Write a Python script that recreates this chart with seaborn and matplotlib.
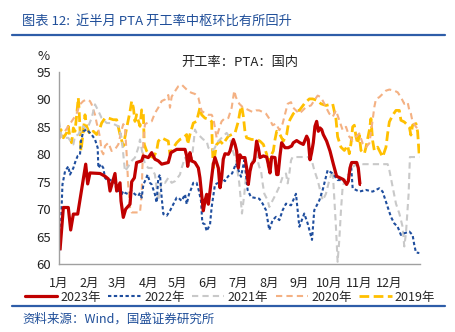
import matplotlib
matplotlib.use("Agg")
import matplotlib.pyplot as plt
import seaborn as sns
import pandas as pd
from matplotlib.lines import Line2D

sns.set_theme(style="white")
plt.rcParams['font.family'] = ['Noto Sans CJK SC', 'DejaVu Sans']

months = ["1月", "2月", "3月", "4月", "5月", "6月", "7月", "8月", "9月", "10月", "11月", "12月"]
month_start = [0, 31, 59, 90, 120, 151, 181, 212, 243, 273, 304, 334]

x2023 = [1, 4.4, 9.4, 11.8, 14.5, 18.9, 27, 29, 31.3, 41.5, 46.5, 49.9, 51.6, 56.6, 58.3, 61.7, 62.7, 65, 67.4, 71.8,
         73.5, 76.2, 78.5, 83.6, 85.3, 90.3, 93.7, 97, 100.4, 103.8, 110.5, 113.2, 119, 127.4, 129.1, 130.1, 132.4, 134.1,
         137.5, 140.9, 142.5, 144.2, 145.9, 147.6, 149.3, 151, 152.7, 154.3, 156, 157.7, 161.1, 162.8, 164.4, 166.1, 167.8,
         171.2, 172.9, 174.6, 176.3, 178, 179.6, 181.3, 183, 184.7, 188, 189.7, 191.4, 193.1, 194.8, 197.5, 199.8, 201.5,
         203.2, 206.6, 210, 211.6, 213.3, 215, 218.4, 220.1, 221.5, 223.4, 225.1, 228.5, 231.8, 235.2, 236.9, 240.3, 243.6,
         247, 250.4, 252, 253.8, 255.4, 257.1, 258.8, 260.5, 262.2, 263.9, 265.6, 267.2, 270.6, 274, 277.4, 280.7, 284.1,
         287.5, 290.8, 292.5, 294.2, 295.9, 301, 302.6, 304.3, 305.3]
y2023 = [62.5, 70.3, 70.3, 66.2, 69.1, 69.1, 78.2, 74.6, 76.6, 76.5, 76.0, 75.5, 73.3, 76.5, 73.3, 74.8, 71.5, 68.5, 70.0, 70.9,
         75.0, 75.7, 78.5, 78.8, 79.7, 79.4, 80.3, 79.1, 78.8, 78.2, 78.5, 80.3, 80.9, 80.9, 79.7, 77.8, 80.3, 78.8,
         78.5, 77.5, 75.7, 72.7, 69.7, 71.5, 72.7, 70.9, 73.3, 75.7, 78.2, 79.4, 77.5, 73.9, 75.7, 79.1, 80.1,
         80.0, 80.6, 81.8, 82.7, 81.8, 80.6, 77.5, 79.9, 79.4, 79.4, 77.5, 74.5, 76.9, 78.2, 78.8, 82.4, 81.2,
         79.4, 79.7, 79.5, 78.2, 76.6, 79.5, 79.4, 76.3, 76.3, 79.7, 82.1, 81.2, 81.2, 81.5, 82.1, 82.5, 82.1,
         81.8, 83.3, 82.7, 79.0, 80.3, 82.1, 85.1, 86.0, 84.2, 84.8, 84.5, 83.6, 82.4, 80.6, 78.2, 76.0, 75.7,
         75.4, 74.5, 75.1, 77.5, 78.5, 78.5, 77.5, 74.5, 74.5]

x2022 = [1, 3.5, 6.1, 9.4, 11.1, 14.5, 16.8, 18.9, 21.2, 22.2, 24.6, 27.9, 33, 36.4, 39.1, 39.8, 42.5, 44.8, 46.5, 49.9,
         53.2, 56.6, 58.3, 61.7, 63.4, 65, 66.7, 70.1, 73.5, 76.8, 80.2, 81.9, 83.6, 85.3, 86.9, 89.6, 92, 93.7, 97, 98.7,
         100.4, 102.1, 103.8, 105.5, 108.9, 112.2, 115.6, 119, 120.6, 124, 127.4, 129.1, 131.4, 134.1, 135.8, 139.1, 141.5,
         143.6, 144.9, 147.6, 149.3, 151, 152.7, 154.3, 157.7, 161.1, 164.4, 167.8, 171, 175, 178.9, 184, 187.4, 190.7,
         194.1, 202.5, 205.9, 209.3, 212.6, 216, 219.4, 222.8, 226.1, 229.5, 234.6, 239.6, 243, 248, 251.4, 255.8, 258.1,
         263.2, 266.6, 271.6, 276.7, 281.7, 286.8, 291.9, 295.2, 296.9, 303.6, 310.4, 317.1, 323.8, 327.2, 332.3, 335.6,
         339, 342.4, 345.7, 349.1, 354.2, 357.5, 359.2, 360.9, 364.3]
y2022 = [62.5, 74.5, 76.9, 77.8, 76.3, 77.5, 78.8, 79.7, 79.9, 82.4, 84.2, 84.5, 83.6, 82.7, 81.2, 77.5, 78.2, 77.5, 75.7, 75.1,
         75.4, 74.8, 73.3, 73.3, 72.7, 73.3, 73.0, 72.7, 73.3, 72.7, 72.4, 73.0, 72.1, 74.5, 75.1, 76.3, 74.8, 74.5, 72.7, 71.2,
         75.7, 76.3, 72.1, 69.1, 68.8, 69.7, 70.9, 72.1, 72.1, 71.5, 72.7, 70.9, 72.7, 73.9, 74.8, 74.8, 73.3,
         71.5, 67.5, 67.2, 66.0, 66.6, 67.2, 70.3, 74.5, 74.8, 75.7, 75.1, 76.0, 76.5, 78.3, 75.9, 78.9, 73.5,
         72.2, 71.9, 71.0, 69.8, 66.2, 68.0, 68.6, 68.0, 69.8, 71.0, 70.7, 72.8, 66.8, 69.2, 67.4, 64.4, 69.8,
         71.6, 73.5, 77.1, 76.5, 75.3, 75.3, 74.7, 78.3, 73.8, 73.2, 73.5, 73.2, 73.8, 73.2, 70.4, 68.6,
         67.4, 66.8, 65.3, 65.6, 65.9, 65.3, 63.5, 62.1, 62.0]

x2021 = [0, 2.7, 9.4, 12.8, 14.5, 16.2, 19.5, 24.6, 27.9, 29.6, 33, 36.4, 38.1, 39.8, 43.1, 48.2, 53.2, 60, 63.4, 65, 66.7,
         70.1, 73.5, 76.8, 80.2, 81.9, 83.6, 86.9, 90.3, 93.7, 97, 98.7, 100.4, 103.8, 107.2, 110.5, 113.9, 117.3, 122.3,
         124, 127.4, 130.8, 134.1, 137.5, 139.1, 142.5, 145.9, 149.3, 151, 154.3, 157.7, 159.4, 162.8, 166.1, 169.5, 172.9,
         175.6, 178.9, 182.3, 185, 187.4, 189, 192.4, 195.8, 199.2, 202.5, 204.2, 205.9, 207.6, 211, 212.6, 216, 219.4,
         222.8, 226.1, 229.5, 231.2, 232.9, 234.6, 236.2, 254.8, 256.4, 258.1, 261.5, 264.9, 266.6, 269.9, 273.3, 276.7,
         280, 281.7, 283.4, 285.1, 286.8, 290.2, 293.5, 296.9, 302, 307, 332.3, 334, 337.3, 340.7, 344.1, 347.4, 349.1,
         350.8, 353.5, 354.8, 364.3]
y2021 = [86.0, 83.0, 83.0, 82.1, 81.8, 83.3, 83.6, 85.1, 84.5, 85.1, 86.6, 89.1, 88.5, 87.9, 86.6, 85.7, 85.7, 85.1, 83.0, 80.0, 76.9,
         77.8, 78.8, 79.4, 81.2, 82.7, 80.9, 78.2, 77.5, 77.5, 76.3, 73.9, 71.5, 75.1, 74.8, 75.7, 74.8, 75.1, 76.3,
         77.5, 79.4, 78.2, 78.8, 84.5, 83.9, 83.3, 82.7, 82.4, 81.2, 80.6, 81.2, 82.1, 82.7, 83.3, 83.9, 83.0,
         80.7, 78.9, 74.7, 69.2, 72.8, 75.9, 77.1, 78.9, 80.1, 77.7, 77.1, 74.7, 72.8, 71.6, 70.4, 71.6, 72.8,
         74.1, 75.9, 76.5, 74.7, 76.5, 78.9, 79.5, 79.5, 78.3, 77.1, 75.3, 72.8, 71.6, 72.8, 75.3, 77.1,
         66.8, 60.4, 64.4, 69.8, 74.1, 75.9, 76.5, 77.7, 78.3, 78.2, 78.2, 77.1, 74.1, 71.0, 69.2, 66.8, 63.2,
         65.6, 72.8, 79.5, 79.5]

x2020 = [0, 2.7, 6.1, 9.4, 12.8, 16.2, 17.9, 21.2, 24.6, 27.9, 31.3, 33, 36.4, 38.1, 39.8, 41.5, 43.1, 44.8, 46.5, 49.9,
         53.2, 56.6, 60, 63.4, 65, 66.7, 68.4, 70.1, 71.8, 73.5, 81.9, 83.6, 84.3, 85.3, 86.9, 90.3, 93.7, 97, 100.4,
         103.8, 107.2, 110.5, 112.2, 113.9, 117.3, 120.6, 124, 127.4, 130.8, 134.1, 137.5, 140.9, 142.5, 144.2, 147.6,
         151, 154.3, 156, 157.7, 159.4, 161.1, 164.4, 167.8, 171.2, 174.6, 177.2, 178.9, 182.3, 185.7, 189, 192.4,
         195.8, 199.2, 202.5, 205.9, 209.3, 212.6, 216, 219.4, 222.8, 226.1, 229.5, 231.2, 234.6, 236.2, 239.6, 243,
         246.4, 249.7, 254.8, 258.1, 261.5, 264.9, 266.6, 269.9, 273.3, 276.7, 280, 283.4, 286.8, 290.2, 293.5, 296.9,
         300.3, 303.6, 307, 310.4, 313.8, 317.1, 318.8, 320.5, 323.8, 327.2, 330.6, 334, 339, 342.4, 345.7, 349.1,
         352.5, 354.2, 355.8, 357.5, 360.9, 364.3]
y2020 = [82.7, 83.6, 84.2, 85.1, 86.0, 86.9, 87.5, 89.1, 89.7, 90.0, 89.7, 89.1, 87.2, 85.7, 84.5, 83.0, 80.6, 80.0, 81.5, 82.1,
         80.6, 80.9, 81.8, 84.5, 85.5, 85.0, 80.0, 74.0, 70.3, 69.4, 69.4, 72.7, 77.5, 82.4, 85.5, 85.8, 86.0, 87.5, 88.5,
         89.7, 90.0, 90.8, 88.5, 90.5, 91.5, 92.4, 92.7, 92.1, 91.5, 91.2, 91.0, 90.3, 89.1, 87.9, 87.5,
         87.2, 87.2, 86.6, 84.8, 83.0, 84.2, 86.0, 86.6, 86.6, 88.5, 91.6, 90.4, 89.2, 88.6, 88.3, 88.0,
         87.7, 88.0, 88.0, 87.7, 87.4, 86.5, 85.3, 85.6, 84.4, 85.6, 88.0, 89.2, 89.5, 88.6, 88.0, 87.4,
         88.0, 88.6, 88.9, 89.8, 90.7, 90.4, 89.8, 88.6, 87.4, 86.8, 88.0, 86.2, 84.4, 85.0, 83.2, 82.5,
         83.2, 83.8, 82.0, 81.3, 82.0, 86.2, 88.6, 90.1, 90.4, 91.0, 91.6, 91.8, 91.6, 91.3, 90.4, 89.2,
         89.5, 88.0, 87.4, 85.9, 85.0, 84.4]

x2019 = [0, 2, 4.4, 7.7, 9.4, 11.1, 12.8, 14.5, 16.2, 17.9, 19.5, 20.2, 21.2, 22.2, 24.6, 26.3, 27.9, 31.3, 34.7, 38.1,
         41.5, 43.1, 46.5, 49.9, 54.9, 58.3, 61.7, 65, 68.4, 71.8, 73.5, 75.2, 76.8, 78.5, 81.9, 83.6, 85.3, 86.2, 88.6,
         92, 95.4, 98.7, 100.4, 103.8, 107.2, 110.5, 112.2, 115.6, 119, 122.3, 125.7, 129.1, 130.1, 132.4, 135.8, 139.1,
         142.5, 144.2, 147.6, 152.7, 154.3, 155, 156, 157.7, 159.4, 162.8, 166.1, 167.8, 171.2, 174.6, 178, 181.3, 183,
         184.7, 186.4, 188, 189.7, 194.8, 199.8, 203.2, 206.6, 210, 211.6, 213.3, 216.7, 218.4, 220.1, 223.4, 226.8,
         230.2, 231.8, 233.5, 236.9, 240.3, 243, 248, 253.1, 256.4, 261.5, 264.9, 269.9, 276.7, 280, 281.7, 285.1, 288.5,
         291.9, 293.5, 295.2, 296.9, 298.6, 300.3, 302, 303.6, 305.3, 308.7, 310.4, 313.8, 315.4, 317.1, 318.8, 322.2,
         325.5, 327.2, 330.6, 332.3, 334, 337.3, 340.7, 344.1, 345.7, 349.1, 352.5, 354.2, 355.8, 357.5, 360.9, 362.6,
         364.3]
y2019 = [83.0, 84.5, 83.0, 83.9, 85.1, 83.0, 82.1, 84.8, 84.2, 87.2, 90.3, 88.5, 84.8, 80.6, 84.2, 87.2, 85.1, 83.6, 84.2, 83.6,
         84.8, 85.7, 86.6, 86.6, 86.3, 86.3, 83.6, 81.5, 84.8, 87.8, 89.7, 88.5, 86.0, 87.2, 85.1, 88.1, 87.2, 81.8, 80.6,
         79.7, 79.4, 80.6, 82.4, 83.0, 82.7, 82.4, 80.0, 81.2, 82.1, 82.7, 83.0, 83.6, 81.8, 83.6, 85.7, 86.0,
         88.5, 87.2, 86.6, 86.3, 86.0, 81.8, 77.5, 80.0, 81.8, 82.4, 81.8, 82.4, 83.3, 83.6, 83.9, 86.0, 87.8,
         88.8, 86.9, 84.2, 83.0, 82.7, 82.7, 82.4, 81.8, 80.0, 77.8, 79.4, 80.6, 82.7, 84.2, 83.6, 82.4,
         83.6, 85.4, 86.3, 87.4, 88.0, 88.0, 89.2, 90.1, 90.1, 89.8, 89.2, 88.9, 89.2, 86.5, 83.2, 81.3, 80.7,
         81.6, 80.1, 81.9, 85.0, 85.3, 83.2, 81.9, 83.5, 80.7, 80.1, 81.3, 84.4, 86.5, 82.5, 80.7, 81.3,
         80.1, 79.5, 81.3, 83.8, 85.9, 87.1, 88.0, 88.0, 86.2, 85.9, 85.3, 85.0, 83.5, 85.3, 85.6, 84.1,
         79.5]

yticks = [60, 65, 70, 75, 80, 85, 90, 95]

W, H = 456, 332
fig = plt.figure(figsize=(W / 100, H / 100), dpi=100)
ax = fig.add_axes([59 / W, (H - 264) / H, 361 / W, 192 / H])

series = [
    ("2019年", x2019, y2019, "#FFC000", 2.0, (3.5, 1.6)),
    ("2020年", x2020, y2020, "#F4B183", 1.5, (3, 2)),
    ("2021年", x2021, y2021, "#C9C9C9", 1.5, (3, 2)),
    ("2022年", x2022, y2022, "#1F4E9E", 1.5, (1.6, 1.2)),
    ("2023年", x2023, y2023, "#C00000", 2.3, None),
]
handles = {}
for name, xs, ys, col, lw, dash in series:
    df = pd.DataFrame({"day": xs, "val": ys})
    sns.lineplot(data=df, x="day", y="val", ax=ax, color=col, linewidth=lw,
                 estimator=None, sort=False, legend=False)
    ln = ax.lines[-1]
    if dash is not None:
        ln.set_dashes(dash)
    ln.set_solid_capstyle("butt")
    h = Line2D([], [], color=col, linewidth=lw)
    if dash is not None:
        h.set_dashes(dash)
    handles[name] = h

ax.set_xlim(0, 365)
ax.set_ylim(60, 95)
ax.set_xticks(month_start)
ax.set_xticklabels(months, fontsize=9, color="#222222")
ax.set_yticks(yticks)
ax.set_yticklabels([str(v) for v in yticks], fontsize=9.5, color="#222222")
ax.set_xlabel("")
ax.set_ylabel("")
ax.tick_params(axis="y", length=0, pad=6)
ax.tick_params(axis="x", length=0, pad=9)
for s in ["top", "right"]:
    ax.spines[s].set_visible(False)
for s in ["left", "bottom"]:
    ax.spines[s].set_color("#A0A0A0")
    ax.spines[s].set_linewidth(1.0)

order = ["2023年", "2022年", "2021年", "2020年", "2019年"]
fig.legend([handles[k] for k in order], order, loc="center", bbox_to_anchor=(230 / W, 1 - 297 / H),
           ncol=5, frameon=False, fontsize=9, handlelength=2.6, handletextpad=0.25, columnspacing=0.6)

fig.text(22 / W, 1 - 21 / H, "图表 12:  近半月 PTA 开工率中枢环比有所回升", fontsize=9.5, color="#1F4E99",
         va="center", ha="left", style="italic")
fig.add_artist(Line2D([12 / W, 445 / W], [1 - 35 / H, 1 - 35 / H], color="#2E5DA8", linewidth=1.6))
fig.text(44 / W, 1 - 56 / H, "%", fontsize=9.5, color="#222222", va="center", ha="center")
fig.text(240 / W, 1 - 62 / H, "开工率：PTA：国内", fontsize=9.5, color="#222222", va="center", ha="center")
fig.add_artist(Line2D([12 / W, 445 / W], [1 - 306 / H, 1 - 306 / H], color="#2E5DA8", linewidth=1.6))
fig.text(22 / W, 1 - 319 / H, "资料来源：Wind，国盛证券研究所", fontsize=9, color="#1F4E99",
         va="center", ha="left", style="italic")

fig.savefig("out.png", dpi=100)
